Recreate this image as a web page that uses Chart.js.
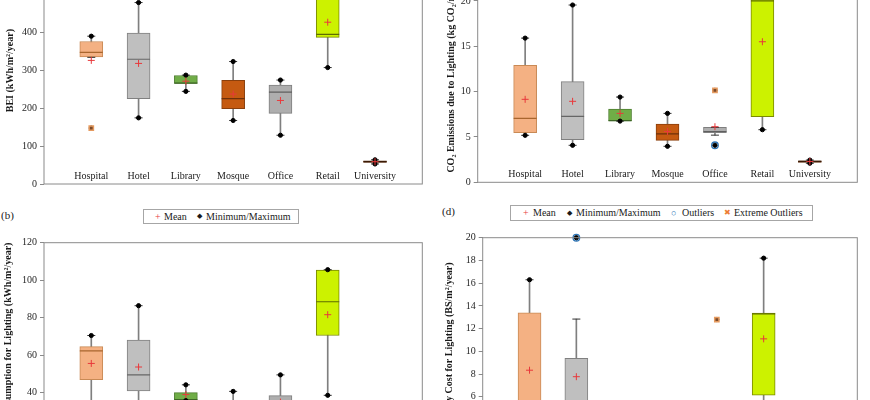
<!DOCTYPE html>
<html>
<head>
<meta charset="utf-8">
<script src="https://cdn.jsdelivr.net/npm/chart.js@4.4.1/dist/chart.umd.min.js"></script>
<style>
  body { margin: 0; width: 870px; height: 400px; overflow: hidden; background: #fff; position: relative; font-family: "Liberation Serif", serif; color: #1a1a1a; }
  .panel { position: absolute; }
  .tag { position: absolute; font-size: 11px; line-height: 14px; }
  .legend { position: absolute; box-sizing: border-box; border: 1px solid #a6a6a6; font-size: 10px; }
  .legend span { position: absolute; top: 0; white-space: nowrap; }
</style>
</head>
<body>

<div class="panel" style="left:0;top:-60px;width:435px;height:260px"><canvas id="chartA" width="435" height="260"></canvas></div>
<div class="panel" style="left:435px;top:-60px;width:435px;height:260px"><canvas id="chartC" width="435" height="260"></canvas></div>
<div class="panel" style="left:0;top:230px;width:435px;height:260px"><canvas id="chartB" width="435" height="260"></canvas></div>
<div class="panel" style="left:435px;top:225px;width:435px;height:260px"><canvas id="chartD" width="435" height="260"></canvas></div>

<div class="tag" style="left:1px;top:208px">(b)</div>
<div class="legend" style="left:143px;top:209px;width:156px;height:15px;line-height:13px">
  <span style="left:11px;color:#e8393b">+</span><span style="left:20px">Mean</span>
  <span style="left:53px;font-size:7px">◆</span><span style="left:62px">Minimum/Maximum</span>
</div>

<div class="tag" style="left:442px;top:204px">(d)</div>
<div class="legend" style="left:510px;top:205px;width:303px;height:16px;line-height:14px">
  <span style="left:12px;color:#e8393b">+</span><span style="left:22px">Mean</span>
  <span style="left:56px;font-size:7px">◆</span><span style="left:65px">Minimum/Maximum</span>
  <span style="left:160px;color:#2e75b6;font-size:9px">○</span><span style="left:171px">Outliers</span>
  <span style="left:213px;color:#ed7d31;font-size:8px">✖</span><span style="left:223px">Extreme Outliers</span>
</div>

<script>
// ── Datos ────────────────────────────────────────────
const categories = ['Hospital', 'Hotel', 'Library', 'Mosque', 'Office', 'Retail', 'University'];

// (a) BEI (kWh/m2/year)
const beiMin  = [148, 175, 245, 168, 129, 308, 53];
const beiLow  = [335, 175, 245, 168, 129, 308, 53];
const beiQ1   = [336, 226, 266, 199, 187, 388, 57];
const beiMed  = [348, 330, 267, 226, 243, 396, 59];
const beiQ3   = [377, 399, 287, 274, 262, 540, 61];
const beiHigh = [391, 480, 288, 324, 275, 610, 64];
const beiMax  = [391, 480, 288, 324, 275, 610, 64];
const beiMean = [327, 319, 272, 238, 221, 428, 59];
const beiOut  = [null, null, null, null, null, null, null];
const beiExt  = [148, null, null, null, null, null, null];
const beiTicks = [0, 600, 100];

// (b) consumo para iluminación (kWh/m2/year)
const engMin  = [28, 30, 35.8, 22, 25, 38.6, 10];
const engLow  = [28, 30, 35.8, 22, 25, 38.6, 10];
const engQ1   = [47, 40.9, 36.2, 26, 30, 70.5, 11];
const engMed  = [62.3, 49.5, 36.3, 29, 34, 88.5, 12];
const engQ3   = [64.6, 68, 40, 33, 38.4, 105.4, 12.5];
const engHigh = [70.5, 86.4, 44.2, 40.7, 49.5, 105.6, 13];
const engMax  = [70.5, 86.4, 44.2, 40.7, 49.5, 105.6, 13];
const engMean = [55.6, 53.7, 39, 30, 35, 81.6, 12];
const engOut  = [null, null, null, null, null, null, null];
const engExt  = [null, null, null, null, null, null, null];
const engTicks = [0, 120, 20];

// (c) CO2 por iluminación (kg CO2/m2/year)
const co2Min  = [5.18, 4.08, 6.75, 3.97, 4.08, 5.8, 2.1];
const co2Low  = [5.18, 4.08, 6.75, 3.97, 5.2, 5.8, 2.1];
const co2Q1   = [5.47, 4.7, 6.76, 4.63, 5.47, 7.25, 2.2];
const co2Med  = [7.05, 7.28, 6.8, 5.33, 5.6, 20.0, 2.3];
const co2Q3   = [12.9, 11.1, 8.08, 6.43, 6.06, 27, 2.36];
const co2High = [15.9, 19.55, 9.4, 7.6, 6.06, 29, 2.45];
const co2Max  = [15.9, 19.55, 9.4, 7.6, 10.14, 29, 2.45];
const co2Mean = [9.15, 8.93, 7.6, 5.6, 6.13, 15.5, 2.3];
const co2Out  = [null, null, null, null, 4.08, null, null];
const co2Ext  = [null, null, null, null, 10.14, null, null];
const co2Ticks = [0, 25, 5];

// (d) costo de iluminación (BS/m2/year)
const costMin  = [3.2, 3.6, 3.4, 2.6, 2.5, 4.4, 1.6];
const costLow  = [3.2, 3.6, 3.4, 2.6, 2.5, 4.4, 1.6];
const costQ1   = [4.2, 4.4, 3.6, 2.9, 3.5, 6.15, 1.7];
const costMed  = [5.0, 5.2, 3.8, 3.3, 3.6, 13.3, 1.8];
const costQ3   = [13.4, 9.38, 4.3, 3.8, 4.0, 13.36, 1.9];
const costHigh = [16.3, 12.84, 4.6, 4.5, 4.5, 18.2, 2.0];
const costMax  = [16.3, 20.0, 4.6, 4.5, 12.8, 18.2, 2.0];
const costMean = [8.34, 7.77, 3.9, 3.4, 4.6, 11.1, 1.8];
const costOut  = [null, 20.0, null, null, null, null, null];
const costExt  = [null, null, null, null, 12.8, null, null];
const costTicks = [0, 20, 2];

// ── Colores ──────────────────────────────────────────
const boxFill = ['#F4B183', '#BFBFBF', '#70AD47', '#C55A11', '#AEAEAE', '#CCF200', '#843C0C'];
const boxEdge = ['#C98A55', '#808080', '#4E7F30', '#8A3F0C', '#7F7F7F', '#7A8A00', '#5A2808'];
const medEdge = ['#A8662E', '#666666', '#3E6626', '#6E300A', '#5F5F5F', '#5E6B00', '#3A1A05'];

Chart.defaults.font.family = '"Liberation Serif", serif';
Chart.defaults.color = '#262626';

// ── Marco + etiquetas dentro del área ────────────────
const boxFrame = {
    id: 'boxFrame',
    afterDatasetsDraw(chart) {
        const { ctx, chartArea: a, scales: { x } } = chart;
        ctx.save();
        ctx.strokeStyle = '#8a8a8a';
        ctx.lineWidth = 1;
        ctx.strokeRect(a.left, a.top, a.width, a.height);
        ctx.fillStyle = '#1a1a1a';
        ctx.font = '10px "Liberation Serif"';
        ctx.textAlign = 'center';
        ctx.textBaseline = 'middle';
        categories.forEach((c, i) => ctx.fillText(c, x.getPixelForValue(i + 1), a.bottom - 7.5));
        ctx.restore();
    }
};

// ── Box plot ─────────────────────────────────────────
function buildBoxPlot(id, s) {
    const pad = a => [null, ...a, null];
    const span = (lo, hi) => pad(lo.map((v, i) => [v, hi[i]]));
    const pts = (data, style) => Object.assign({ type: 'line', data: pad(data), showLine: false, clip: 8 }, style);

    new Chart(document.getElementById(id), {
        type: 'bar',
        data: {
            labels: ['', ...categories, ''],
            datasets: [
                { data: span(s.low, s.high), backgroundColor: '#7f7f7f', barThickness: 1, grouped: false, order: 9 },
                { data: span(s.q1, s.q3), backgroundColor: pad(boxFill), borderColor: pad(boxEdge), borderWidth: 1,
                  borderSkipped: false, barThickness: 23, grouped: false, order: 8 },
                pts(s.med, { pointStyle: 'line', pointRadius: 11.5, pointBorderColor: pad(medEdge), pointBorderWidth: 1.2, order: 7 }),
                pts(s.low, { pointStyle: 'line', pointRadius: 4, pointBorderColor: '#333', pointBorderWidth: 1, order: 6 }),
                pts(s.high, { pointStyle: 'line', pointRadius: 4, pointBorderColor: '#333', pointBorderWidth: 1, order: 5 }),
                pts(s.out, { pointStyle: 'circle', pointRadius: 3.3, pointBackgroundColor: 'rgba(0,0,0,0)', pointBorderColor: '#2e75b6', pointBorderWidth: 1.3, order: 4 }),
                pts(s.min, { pointStyle: 'circle', pointRadius: 2.1, pointBackgroundColor: '#000', pointBorderColor: '#000', pointBorderWidth: 1, order: 3 }),
                pts(s.max, { pointStyle: 'circle', pointRadius: 2.1, pointBackgroundColor: '#000', pointBorderColor: '#000', pointBorderWidth: 1, order: 2 }),
                pts(s.ext, { pointStyle: 'rect', pointRadius: 3, pointBackgroundColor: '#7a4a2a', pointBorderColor: '#e59a5f', pointBorderWidth: 1.5, order: 1 }),
                pts(s.mean, { pointStyle: 'cross', pointRadius: 3.5, pointBorderColor: '#e8393b', pointBorderWidth: 1, order: 0 })
            ]
        },
        options: {
            responsive: false, animation: false, events: [],
            layout: { padding: s.pad },
            plugins: { legend: { display: false }, tooltip: { enabled: false } },
            scales: {
                x: {
                    type: 'category', offset: false,
                    ticks: { display: false },
                    grid: { display: false },
                    border: { display: false },
                    afterFit: sc => { sc.height = s.xH; }
                },
                y: {
                    min: s.ticks[0], max: s.ticks[1],
                    ticks: { stepSize: s.ticks[2], font: { size: 10 }, padding: 3 },
                    grid: { drawOnChartArea: false, drawTicks: true, tickLength: 4, color: '#8a8a8a' },
                    border: { display: false },
                    title: { display: true, text: s.title, color: '#1a1a1a', font: { size: 10, weight: 'bold' }, padding: { top: s.tp, bottom: 0 } },
                    afterFit: sc => { sc.width = s.yW; }
                }
            }
        },
        plugins: [boxFrame]
    });
}

buildBoxPlot('chartA', {
    min: beiMin, low: beiLow, q1: beiQ1, med: beiMed, q3: beiQ3, high: beiHigh, max: beiMax, mean: beiMean, out: beiOut, ext: beiExt,
    ticks: beiTicks, title: 'BEI (kWh/m²/year)', tp: 4,
    pad: { top: 17.2, right: 6, left: 0, bottom: 0 }, yW: 44, xH: 16
});

buildBoxPlot('chartC', {
    min: co2Min, low: co2Low, q1: co2Q1, med: co2Med, q3: co2Q3, high: co2High, max: co2Max, mean: co2Mean, out: co2Out, ext: co2Ext,
    ticks: co2Ticks, title: 'CO₂ Emissions due to Lighting (kg CO₂/m²/year)', tp: 10,
    pad: { top: 15.6, right: 2, left: 0, bottom: 0 }, yW: 42.7, xH: 17.7
});

buildBoxPlot('chartB', {
    min: engMin, low: engLow, q1: engQ1, med: engMed, q3: engQ3, high: engHigh, max: engMax, mean: engMean, out: engOut, ext: engExt,
    ticks: engTicks, title: 'Electricity Consumption for Lighting (kWh/m²/year)', tp: 2,
    pad: { top: 6.7, right: 5, left: 0, bottom: 0 }, yW: 44, xH: 22.3
});

buildBoxPlot('chartD', {
    min: costMin, low: costLow, q1: costQ1, med: costMed, q3: costQ3, high: costHigh, max: costMax, mean: costMean, out: costOut, ext: costExt,
    ticks: costTicks, title: 'Electricity Cost for Lighting (BS/m²/year)', tp: 8,
    pad: { top: 9, right: 3.3, left: 0, bottom: 0 }, yW: 47.7, xH: 20
});
</script>
</body>
</html>
